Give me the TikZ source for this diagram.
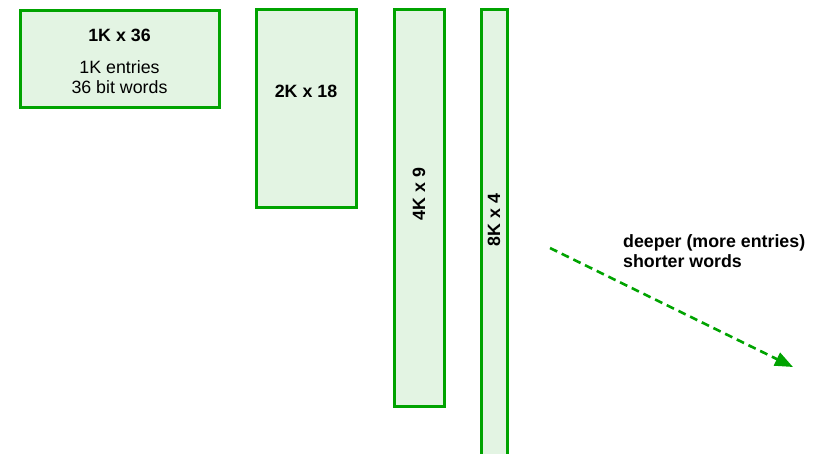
\documentclass[tikz,border=0pt]{standalone}
\usepackage{fontspec}
\setmainfont{Liberation Sans}
\usetikzlibrary{arrows.meta}
\definecolor{memline}{HTML}{00A300}
\definecolor{memfill}{HTML}{E3F4E3}
\begin{document}
\begin{tikzpicture}[x=1pt,y=-1pt,
  membox/.style={draw=memline,fill=memfill,line width=3pt,inner sep=0pt,outer sep=0pt},
  memtext/.style={font=\fontsize{17.8}{20}\selectfont,text=black,inner sep=0pt},
  trend/.style={draw=memline,line width=2.6pt,dash pattern=on 8pt off 5pt,
    -{Triangle[length=18pt,width=14pt]}}]
  \useasboundingbox (0,0) rectangle (818,454);
  % memory organisations, same capacity
  \node[membox,minimum width=199pt,minimum height=97pt] (m1) at (119.5,59.5) {};
  \node[membox,minimum width=100pt,minimum height=198pt] (m2) at (306,109) {};
  \node[membox,minimum width=50pt,minimum height=396pt] (m3) at (419,208) {};
  \node[membox,minimum width=26pt,minimum height=445pt,anchor=north] (m4) at (494,10) {};
  % labels
  \node[memtext,align=center] (t1) at (119.5,61) {\textbf{1K x 36}\\[12pt]1K entries\\36 bit words};
  \node[memtext] (t2) at (306,91) {\textbf{2K x 18}};
  \node[memtext,rotate=90] (t3) at (419,194) {\textbf{4K x 9}};
  \node[memtext,rotate=90] (t4) at (494,220) {\textbf{8K x 4}};
  % trend arrow
  \coordinate (a0) at (550,248);
  \coordinate (a1) at (793,367);
  \draw[trend] (a0) -- (a1);
  \node[memtext,align=left,anchor=west] (t5) at (623,251) {\textbf{deeper (more entries)}\\\textbf{shorter words}};
\end{tikzpicture}
\end{document}
